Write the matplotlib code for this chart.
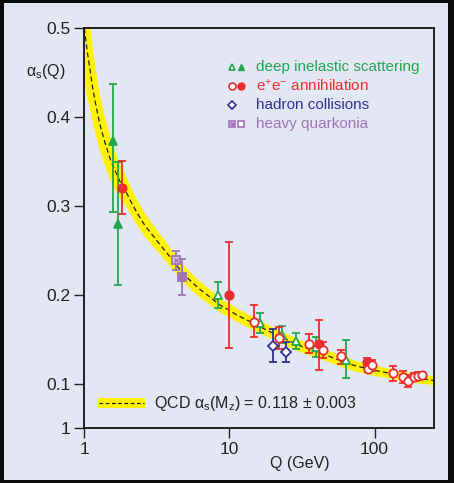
import matplotlib
matplotlib.use("Agg")
import matplotlib.pyplot as plt
from matplotlib.patches import Rectangle
import numpy as np

plt.rcParams['font.family'] = ['Liberation Sans', 'DejaVu Sans']
plt.rcParams['mathtext.fontset'] = 'custom'
plt.rcParams['mathtext.rm'] = 'Liberation Sans'
plt.rcParams['mathtext.it'] = 'Liberation Sans'

# QCD curve: Q (GeV), alpha_s, half width of the band
q_curve = [1.0, 1.05, 1.1, 1.15, 1.2, 1.28, 1.38, 1.5, 1.62, 1.76, 1.9, 2.1, 2.3, 2.6,
           3.0, 3.4, 3.9, 4.4, 5.1, 6.1, 7.2, 8.6, 10, 11.2, 14.6, 19, 24.8, 32.2,
           42, 55, 71, 91, 121, 160, 200, 240, 258]
a_curve = [0.500, 0.473, 0.451, 0.430, 0.414, 0.392, 0.373, 0.354, 0.341, 0.328, 0.319,
           0.305, 0.293, 0.279, 0.266, 0.255, 0.243, 0.232, 0.220, 0.208, 0.199, 0.189,
           0.183, 0.178, 0.1685, 0.159, 0.150, 0.1418, 0.1355, 0.128, 0.1215, 0.117,
           0.113, 0.109, 0.1065, 0.105, 0.104]
band_hw = [0.062, 0.053, 0.046, 0.040, 0.036, 0.031, 0.027, 0.024, 0.021, 0.019, 0.017,
           0.0155, 0.014, 0.013, 0.012, 0.011, 0.0105, 0.010, 0.0095, 0.009, 0.0085, 0.008,
           0.0077, 0.0075, 0.0072, 0.007, 0.0068, 0.0066, 0.0064, 0.0062, 0.006, 0.0058,
           0.0055, 0.0052, 0.005, 0.005, 0.005]

# deep inelastic scattering
dis_f_q = [1.57, 1.70]
dis_f_a = [0.373, 0.280]
dis_f_hi = [0.437, 0.350]
dis_f_lo = [0.294, 0.212]
dis_o_q = [8.29, 16.3, 23.2, 28.7, 39.4, 63.1]
dis_o_a = [0.200, 0.1685, 0.1554, 0.149, 0.1423, 0.1273]
dis_o_hi = [0.2154, 0.180, 0.1655, 0.157, 0.1530, 0.150]
dis_o_lo = [0.1854, 0.158, 0.146, 0.140, 0.131, 0.1067]

# e+e- annihilation
ee_f_q = [1.82, 10.0, 41.6, 88.5]
ee_f_a = [0.321, 0.200, 0.1453, 0.1247]
ee_f_hi = [0.351, 0.2596, 0.1720, 0.129]
ee_f_lo = [0.2914, 0.1404, 0.1155, 0.120]
ee_o_q = [14.75, 22.0, 35.5, 44.3, 58.3, 89.5, 95.3, 133, 157.6, 170.6, 186, 198, 211]
ee_o_a = [0.1697, 0.1517, 0.145, 0.1386, 0.1322, 0.1169, 0.1217, 0.1124, 0.1079,
          0.1041, 0.1086, 0.1097, 0.1101]
ee_o_hi = [0.189, 0.164, 0.1566, 0.148, 0.139, 0.1236, 0.1273, 0.121, 0.1154,
           0.1105, 0.1131, 0.114, 0.114]
ee_o_lo = [0.1536, 0.1393, 0.1356, 0.130, 0.1229, 0.1135, 0.1154, 0.104, 0.101,
           0.0966, 0.104, 0.105, 0.106]

# hadron collisions
had_q = [20.1, 24.5]
had_a = [0.1434, 0.136]
had_hi = [0.162, 0.148]
had_lo = [0.1255, 0.1255]

# heavy quarkonia
hq_x_q = [4.28]
hq_x_a = [0.2397]
hq_x_hi = [0.2502]
hq_x_lo = [0.2285]
hq_f_q = [4.71]
hq_f_a = [0.2202]
hq_f_hi = [0.2404]
hq_f_lo = [0.2004]

legend_labels = ['deep inelastic scattering', 'e$^{+}$e$^{-}$ annihilation',
                 'hadron collisions', 'heavy quarkonia']

green = '#1fa84f'
red = '#ee2b2e'
blue = '#2e3192'
purple = '#9f74b8'
yellow = '#fff200'
bg = '#e3e7f3'

fig = plt.figure(figsize=(4.54, 4.83), dpi=100, facecolor='#0a0a0a')
fig.patches.append(Rectangle((4 / 454, 3 / 483), 444 / 454, 477 / 483,
                             transform=fig.transFigure, facecolor=bg, edgecolor='none', zorder=-10))
ax = fig.add_axes([0.1857, 0.1133, 0.7709, 0.8282])
ax.set_facecolor(bg)

qc = np.array(q_curve)
ac = np.array(a_curve)
hw = np.array(band_hw)
ax.fill_between(qc, ac - hw, ac + hw, color=yellow, lw=0, zorder=1)
ax.plot(qc, ac, color='#222222', lw=0.9, ls=(0, (4, 2.5)), zorder=2)


def points(q, a, lo, hi, color, marker, ms, face):
    a = np.array(a)
    err = [a - np.array(lo), np.array(hi) - a]
    ax.errorbar(q, a, yerr=err, fmt=marker, color=color, ms=ms, mfc=face, mec=color,
                mew=1.3, elinewidth=1.3, capsize=2.8, capthick=1.3, zorder=4)


points(dis_f_q, dis_f_a, dis_f_lo, dis_f_hi, green, '^', 6, green)
points(dis_o_q, dis_o_a, dis_o_lo, dis_o_hi, green, '^', 6, 'white')
points(ee_f_q, ee_f_a, ee_f_lo, ee_f_hi, red, 'o', 6, red)
points(ee_o_q, ee_o_a, ee_o_lo, ee_o_hi, red, 'o', 6, 'white')
points(had_q, had_a, had_lo, had_hi, blue, 'D', 5, 'white')
points(hq_x_q, hq_x_a, hq_x_lo, hq_x_hi, purple, 's', 6, '#d8c8e4')
ax.plot(hq_x_q, hq_x_a, 'x', color=purple, ms=3.5, mew=1, zorder=5)
points(hq_f_q, hq_f_a, hq_f_lo, hq_f_hi, purple, 's', 6, purple)

ax.set_xscale('log')
ax.set_xlim(1, 258)
ymin = 0.0505
ax.set_ylim(ymin, 0.5)
ax.set_xticks([1, 10, 100])
ax.set_xticklabels(['1', '10', '100'])
ax.xaxis.set_minor_locator(matplotlib.ticker.NullLocator())
ax.set_yticks([ymin, 0.1, 0.2, 0.3, 0.4, 0.5])
ax.set_yticklabels(['1', '0.1', '0.2', '0.3', '0.4', '0.5'])
ax.tick_params(direction='out', length=7, width=1, labelsize=12.5, colors='#222222', pad=3)
for s in ax.spines.values():
    s.set_linewidth(1.3)
    s.set_color('#111111')

fig.text(0.101, 0.851, r'$\alpha_{\rm s}$(Q)', fontsize=11.5, ha='center', va='center', color='#222222')
fig.text(0.661, 0.041, 'Q (GeV)', fontsize=11.5, ha='center', va='center', color='#222222')

# legend, top right
rows = [0.903, 0.856, 0.808, 0.761]
colors = [green, red, blue, purple]
tr = ax.transAxes
ax.plot([0.421], [rows[0]], '^', ms=5, mfc='white', mec=green, mew=1.2, transform=tr, clip_on=False)
ax.plot([0.447], [rows[0]], '^', ms=5, color=green, transform=tr, clip_on=False)
ax.plot([0.421], [rows[1]], 'o', ms=5, mfc='white', mec=red, mew=1.2, transform=tr, clip_on=False)
ax.plot([0.447], [rows[1]], 'o', ms=5, color=red, transform=tr, clip_on=False)
ax.plot([0.421], [rows[2]], 'D', ms=4.5, mfc='white', mec=blue, mew=1.2, transform=tr, clip_on=False)
ax.plot([0.421], [rows[3]], 's', ms=5, mfc='#d8c8e4', mec=purple, mew=1.2, transform=tr, clip_on=False)
ax.plot([0.421], [rows[3]], 'x', ms=3, color=purple, mew=1, transform=tr, clip_on=False)
ax.plot([0.447], [rows[3]], 's', ms=5, mfc='white', mec=purple, mew=1.2, transform=tr, clip_on=False)
for y, lab, c in zip(rows, legend_labels, colors):
    ax.text(0.490, y, lab, color=c, fontsize=11, va='center', ha='left', transform=tr)

# bottom legend for the QCD curve
ax.add_patch(Rectangle((0.038, 0.05), 0.135, 0.025, transform=tr, facecolor=yellow, edgecolor='none'))
ax.plot([0.042, 0.170], [0.0625, 0.0625], color='#222222', lw=0.9, ls=(0, (3, 2)), transform=tr)
ax.text(0.199, 0.0625, r'QCD $\alpha_{\rm s}$(M$_{\rm z}$) = 0.118 $\pm$ 0.003', fontsize=11.5,
        va='center', ha='left', color='#222222', transform=tr)

fig.savefig('out.png', dpi=100, facecolor=fig.get_facecolor())
